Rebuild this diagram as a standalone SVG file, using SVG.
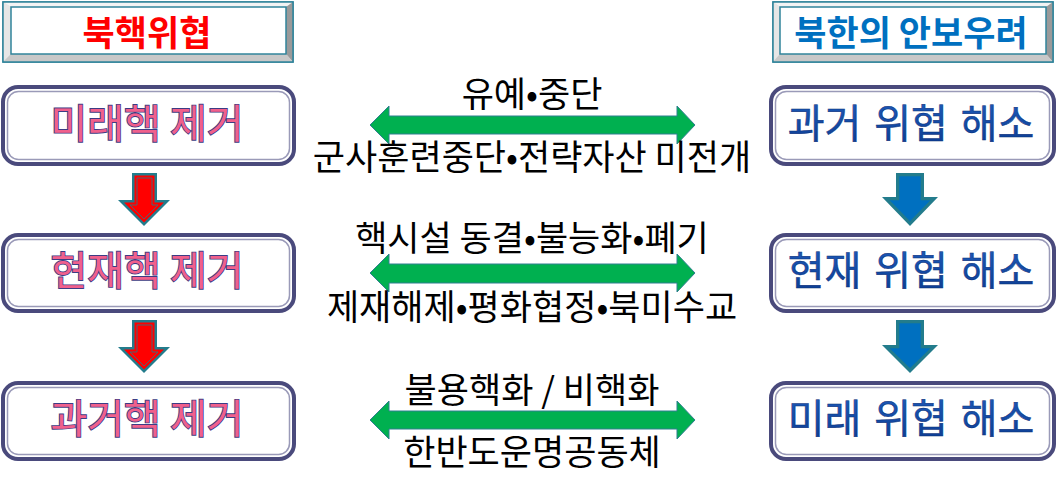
<svg xmlns="http://www.w3.org/2000/svg" width="1056" height="491" viewBox="0 0 1056 491">
<style>
.t{font-family:"Noto Sans CJK KR","Noto Sans",sans-serif;text-anchor:middle}
.lbl{font-size:35px;fill:#000}
.title{font-size:35px;font-weight:bold}
.nl{font-size:40px;fill:#f0608c;stroke:#3c3c84;stroke-width:1.8;paint-order:stroke}
.nr{font-size:40px;fill:url(#blueText);stroke:#0a2f78;stroke-width:0.5;word-spacing:4px}
.box{fill:#fff;stroke:#4a4a7c;stroke-width:4}
.boxin{fill:none;stroke:#9a9ab8;stroke-width:1.5}
.ga{fill:#00b050;stroke:#2f7f8f;stroke-width:1}
.teal{fill:#237c8c}
.red{fill:#ff0000}
.redin{fill:#ff0000;stroke:#237c8c;stroke-width:0.8}
.blue{fill:#0070c0}
.bluein{fill:#0070c0;stroke:#237c8c;stroke-width:0.6}
.fr{fill:#fff;stroke:#31849b;stroke-width:1.5}
</style>
<defs>
<linearGradient id="blueText" x1="0" y1="0" x2="0" y2="1">
<stop offset="0" stop-color="#1f5fc0"/>
<stop offset="1" stop-color="#0b3a8e"/>
</linearGradient>
</defs>

<g id="title-left">
<rect x="3" y="2" width="290" height="60" fill="#e0e0e0" stroke="#31849b" stroke-width="1.5"/>
<polygon points="3,2 293,2 286,7 11,7" fill="#f4f4f4"/>
<polygon points="3,2 11,7 11,54 3,62" fill="#e6e6e6"/>
<polygon points="293,2 293,62 286,54 286,7" fill="#9a9a9a"/>
<polygon points="3,62 293,62 286,54 11,54" fill="#c8c8c8"/>
<rect x="3" y="2" width="290" height="60" fill="none" stroke="#31849b" stroke-width="1.5"/>
<rect class="fr" x="11" y="7" width="275" height="47"/>
<text class="t title" x="147" y="46" fill="#ff0000">북핵위협</text>
</g>

<g id="title-right">
<rect x="773" y="2" width="280" height="60" fill="#e0e0e0" stroke="#31849b" stroke-width="1.5"/>
<polygon points="773,2 1053,2 1046,7 780,7" fill="#f4f4f4"/>
<polygon points="773,2 780,7 780,54 773,62" fill="#e6e6e6"/>
<polygon points="1053,2 1053,62 1046,54 1046,7" fill="#9a9a9a"/>
<polygon points="773,62 1053,62 1046,54 780,54" fill="#c8c8c8"/>
<rect x="773" y="2" width="280" height="60" fill="none" stroke="#31849b" stroke-width="1.5"/>
<rect class="fr" x="780" y="7" width="266" height="47"/>
<text class="t title" x="911" y="46" fill="#0070c0">북한의 안보우려</text>
</g>

<g id="node-l1">
<rect class="box" x="3" y="87" width="291" height="77" rx="15"/>
<rect class="boxin" x="7.5" y="91.5" width="282" height="68" rx="11"/>
<text class="t nl" x="147" y="138">미래핵 제거</text>
</g>
<g id="node-l2">
<rect class="box" x="3" y="235" width="291" height="76" rx="15"/>
<rect class="boxin" x="7.5" y="239.5" width="282" height="67" rx="11"/>
<text class="t nl" x="147" y="285">현재핵 제거</text>
</g>
<g id="node-l3">
<rect class="box" x="3" y="383" width="291" height="76" rx="15"/>
<rect class="boxin" x="7.5" y="387.5" width="282" height="67" rx="11"/>
<text class="t nl" x="147" y="433">과거핵 제거</text>
</g>

<g id="node-r1">
<rect class="box" x="771" y="87" width="283" height="77" rx="15"/>
<rect class="boxin" x="775.5" y="91.5" width="274" height="68" rx="11"/>
<text class="t nr" x="911" y="138">과거 위협 해소</text>
</g>
<g id="node-r2">
<rect class="box" x="771" y="235" width="283" height="76" rx="15"/>
<rect class="boxin" x="775.5" y="239.5" width="274" height="67" rx="11"/>
<text class="t nr" x="911" y="285">현재 위협 해소</text>
</g>
<g id="node-r3">
<rect class="box" x="771" y="383" width="283" height="76" rx="15"/>
<rect class="boxin" x="775.5" y="387.5" width="274" height="67" rx="11"/>
<text class="t nr" x="911" y="433">미래 위협 해소</text>
</g>

<g id="connectors">
<g id="down-l1">
<polygon class="teal" points="132,173 157,173 157,200 170,200 144,226 118,200 132,200"/>
<polygon class="red" points="134.5,175.5 154.5,175.5 154.5,202.5 164,202.5 144,222.5 124,202.5 134.5,202.5"/>
<polygon class="redin" points="137,178 152,178 152,205 158,205 144,219 130,205 137,205"/>
</g>
<g id="down-l2">
<polygon class="teal" points="132,320 157,320 157,347 170,347 144,373 118,347 132,347"/>
<polygon class="red" points="134.5,322.5 154.5,322.5 154.5,349.5 164,349.5 144,369.5 124,349.5 134.5,349.5"/>
<polygon class="redin" points="137,325 152,325 152,352 158,352 144,366 130,352 137,352"/>
</g>
<g id="down-r1">
<polygon class="teal" points="896,173 924,173 924,197 938,197 910,226 882,197 896,197"/>
<polygon class="bluein" points="899,176 921,176 921,200 931,200 910,221.5 889,200 899,200"/>
<polygon class="blue" points="902,179 918,179 918,203 924,203 910,217 896,203 902,203"/>
</g>
<g id="down-r2">
<polygon class="teal" points="896,320 924,320 924,345 938,345 910,373 882,345 896,345"/>
<polygon class="bluein" points="899,323 921,323 921,348 931,348 910,368.5 889,348 899,348"/>
<polygon class="blue" points="902,326 918,326 918,351 924,351 910,364 896,351 902,351"/>
</g>
<polygon id="link-1" class="ga" points="370,125 389,106 389,116 677,116 677,106 695,125 677,144 677,134 389,134 389,144"/>
<polygon id="link-2" class="ga" points="370,273 389,254 389,264 677,264 677,254 695,273 677,292 677,283 389,283 389,292"/>
<polygon id="link-3" class="ga" points="370,420 389,401 389,411 677,411 677,401 695,420 677,439 677,429 389,429 389,439"/>
</g>

<g id="labels">
<text class="t lbl" x="532" y="107">유예•중단</text>
<text class="t lbl" x="532" y="170">군사훈련중단•전략자산 미전개</text>
<text class="t lbl" x="532" y="251">핵시설 동결•불능화•폐기</text>
<text class="t lbl" x="532" y="320">제재해제•평화협정•북미수교</text>
<text class="t lbl" x="532" y="403">불용핵화 / 비핵화</text>
<text class="t lbl" x="532" y="465">한반도운명공동체</text>
</g>
</svg>
